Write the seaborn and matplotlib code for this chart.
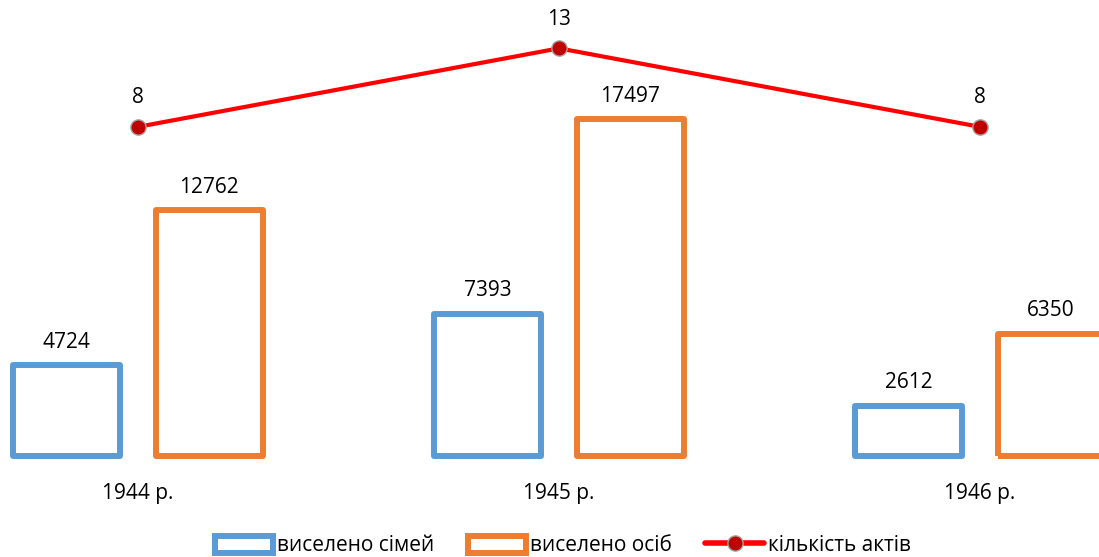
import pandas as pd
import matplotlib.pyplot as plt
import seaborn as sns
from matplotlib.patches import Patch
from matplotlib.lines import Line2D


# Data
years = ["1944 р.", "1945 р.", "1946 р."]
families = [4724, 7393, 2612]
persons = [12762, 17497, 6350]
acts = [8, 13, 8]

series_names = ["виселено сімей", "виселено осіб", "кількість актів"]
colors = ["#5B9BD5", "#ED7D31", "#FF0000"]

sns.set_style("white")
plt.rcParams["font.family"] = ["Open Sans", "DejaVu Sans"]
plt.rcParams["text.color"] = "black"
plt.rcParams["xtick.color"] = "black"

df = pd.DataFrame({
    "year": years * 2,
    "series": [series_names[0]] * len(years) + [series_names[1]] * len(years),
    "value": families + persons,
})
df_line = pd.DataFrame({"pos": range(len(years)), "acts": acts})

fig = plt.figure(figsize=(10.99, 5.57), dpi=100)
ax = fig.add_axes([0, 0.181, 1, 0.783])

# Outline bars
sns.barplot(
    data=df, x="year", y="value", hue="series",
    hue_order=series_names[:2], palette=colors[:2],
    fill=False, width=0.676, gap=0.25, linewidth=4.3,
    errorbar=None, legend=False, ax=ax
)
for p in ax.patches:
    p.set_clip_on(False)
    p.set_joinstyle("round")

for container, vals in zip(ax.containers, [families, persons]):
    ax.bar_label(container, labels=[str(v) for v in vals], padding=9, fontsize=15)

# Line on secondary axis
ax2 = ax.twinx()
sns.lineplot(
    data=df_line, x="pos", y="acts", color=colors[2], linewidth=3,
    marker="o", markersize=11, markerfacecolor="#C00000",
    markeredgecolor="#A5A5A5", markeredgewidth=1, ax=ax2
)
for x, v in zip(df_line["pos"], acts):
    ax2.annotate(str(v), (x, v), xytext=(0, 21), textcoords="offset points",
                 ha="center", va="center", fontsize=15)

ax.set_xlim(-0.3278, 2.2827)
ax.set_ylim(0, 22640)
ax2.set_ylim(-12.97, 14.8)

for a in (ax, ax2):
    a.set_yticks([])
    a.set_xlabel("")
    a.set_ylabel("")
    for s in a.spines.values():
        s.set_visible(False)
ax.tick_params(axis="x", length=0, pad=19, labelsize=15)

# Legend
handles = [
    Patch(facecolor="white", edgecolor=colors[0], linewidth=4.3),
    Patch(facecolor="white", edgecolor=colors[1], linewidth=4.3),
    Line2D([0], [0], color=colors[2], linewidth=4, marker="o", markersize=11,
           markerfacecolor="#C00000", markeredgecolor="#A5A5A5"),
]
fig.legend(handles, series_names, loc="center", bbox_to_anchor=(0.512, 0.02),
           ncol=3, frameon=False, fontsize=15, handlelength=2.8, handleheight=0.9,
           handletextpad=0.2, columnspacing=1.6)

fig.savefig("out.png", dpi=100)
